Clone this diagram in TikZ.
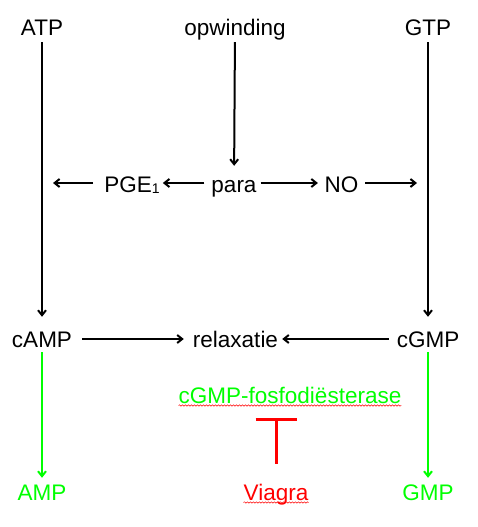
\documentclass[tikz,border=0pt]{standalone}
\usepackage{fontspec}
\setmainfont{Liberation Sans}
\usetikzlibrary{arrows.meta,decorations.pathmorphing}
\definecolor{lime}{RGB}{0,255,0}
\definecolor{vred}{RGB}{255,0,0}
\begin{document}
\begin{tikzpicture}[x=1pt,y=-1pt,
  lbl/.style={anchor=base, inner sep=0pt, text height=16pt, text depth=5pt, font=\fontsize{22.5}{27}\selectfont},
  arr/.style={line width=2pt, -{Straight Barb[length=5pt,width=8pt]}},
  garr/.style={arr, color=lime},
  inhib/.style={color=vred, line width=3pt, -{Bar[width=41pt]}},
  wavy/.style={color=vred, line width=0.5pt, decorate, decoration={snake, amplitude=0.7pt, segment length=3pt}}]
\useasboundingbox (0,0) rectangle (477,527);
\node[lbl] (ATP) at (42,36) {ATP};
\node[lbl] (opw) at (235,36) {opwinding};
\node[lbl] (GTP) at (428,36) {GTP};
\node[lbl] (PGE) at (132,192) {PGE\raisebox{-1pt}{\fontsize{14}{14}\selectfont 1}};
\node[lbl] (para) at (234,192) {para};
\node[lbl] (NO) at (341.5,192) {NO};
\coordinate (L) at (53,183);
\coordinate (R) at (417,183);
\node[lbl] (cAMP) at (42,347) {cAMP};
\node[lbl] (relax) at (235.5,347) {relaxatie};
\node[lbl] (cGMP) at (428,347) {cGMP};
\node[lbl, text=lime] (enz) at (290,403) {cGMP-fosfodiësterase};
\coordinate (Tbar) at (276,418);
\node[lbl, text=lime] (AMP) at (42,500) {AMP};
\node[lbl, text=vred] (Viagra) at (276,500) {Viagra};
\node[lbl, text=lime] (GMP) at (428,500) {GMP};
\draw[arr, shorten <=1pt, shorten >=14pt] (ATP) -- (cAMP);
\draw[arr, shorten <=1pt, shorten >=10pt] (opw) -- (para);
\draw[arr, shorten <=1pt, shorten >=14pt] (GTP) -- (cGMP);
\draw[arr, shorten <=7pt, shorten >=3pt] ([yshift=3.5pt]para.west) -- ([yshift=3.5pt]PGE.east);
\draw[arr, shorten <=11pt] ([yshift=3.5pt]PGE.west) -- (L);
\draw[arr, shorten <=4pt, shorten >=6.5pt] ([yshift=3.5pt]para.east) -- ([yshift=3.5pt]NO.west);
\draw[arr, shorten <=6.5pt] ([yshift=3.5pt]NO.east) -- (R);
\draw[arr, shorten <=10pt, shorten >=9pt] ([yshift=2.5pt]cAMP.east) -- ([yshift=2.5pt]relax.west);
\draw[arr, shorten <=8pt, shorten >=4pt] ([yshift=2.5pt]cGMP.west) -- ([yshift=2.5pt]relax.east);
\draw[garr, shorten >=6pt] (cAMP) -- (AMP);
\draw[garr, shorten >=6pt] (cGMP) -- (GMP);
\draw[inhib, shorten <=20pt] (Viagra) -- (Tbar);
\draw[wavy] ([yshift=-2.5pt]enz.base west) -- ([yshift=-2.5pt]enz.base east);
\draw[wavy] ([yshift=-2.5pt]Viagra.base west) -- ([yshift=-2.5pt]Viagra.base east);
\end{tikzpicture}
\end{document}
